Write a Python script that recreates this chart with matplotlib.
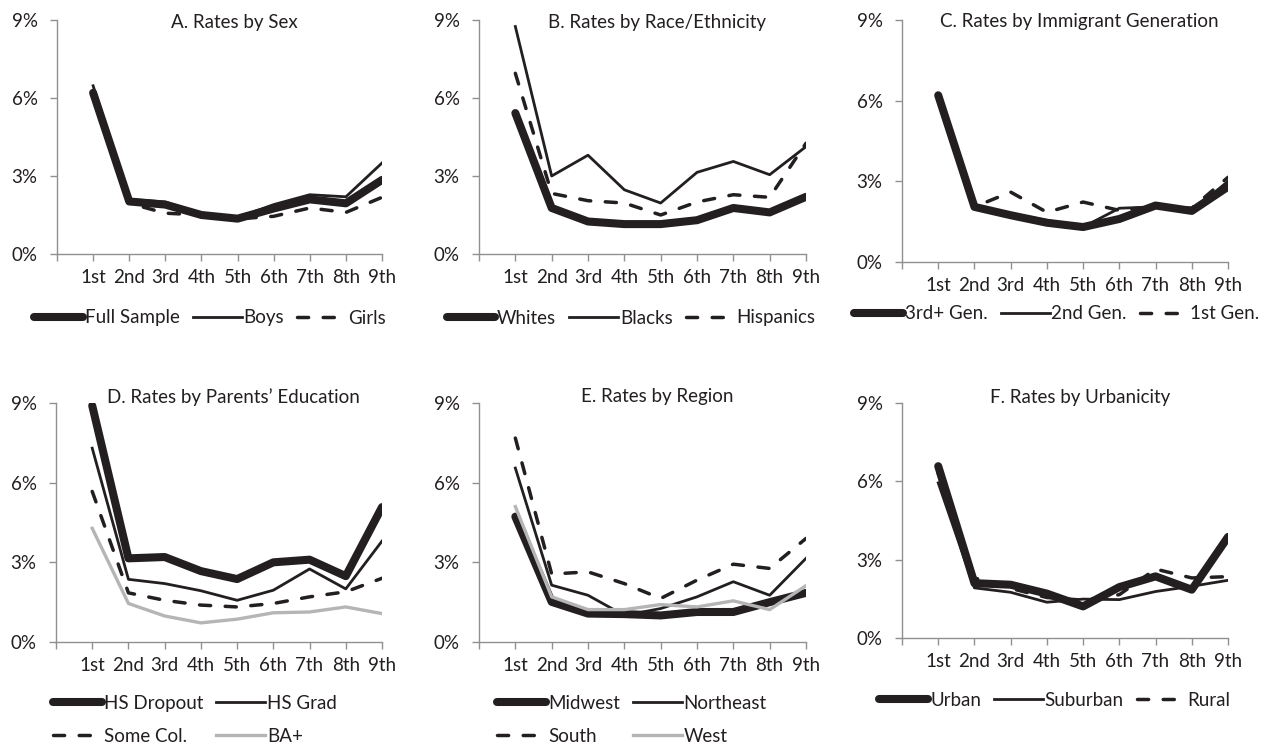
import matplotlib

matplotlib.use("Agg")
from matplotlib import pyplot as plt

grades = ["1st", "2nd", "3rd", "4th", "5th", "6th", "7th", "8th", "9th"]

# A. sex
sex_full = [6.2, 2.02, 1.9, 1.5, 1.36, 1.75, 2.1, 1.95, 2.85]
sex_boys = [6.47, 2.1, 2.0, 1.55, 1.4, 1.9, 2.28, 2.2, 3.5]
sex_girls = [6.1, 1.95, 1.57, 1.5, 1.35, 1.45, 1.77, 1.6, 2.18]

# B. race / ethnicity
race_whites = [5.42, 1.77, 1.25, 1.15, 1.15, 1.3, 1.77, 1.6, 2.2]
race_blacks = [8.75, 3.0, 3.8, 2.47, 1.96, 3.14, 3.56, 3.05, 4.13]
race_hispanics = [6.95, 2.33, 2.05, 1.96, 1.5, 2.0, 2.28, 2.18, 4.26]

# C. immigrant generation
gen_third = [6.2, 2.05, 1.74, 1.46, 1.3, 1.6, 2.1, 1.9, 2.8]
gen_second = [6.2, 2.05, 1.8, 1.55, 1.3, 2.0, 2.05, 1.9, 3.0]
gen_first = [6.1, 2.05, 2.6, 1.85, 2.23, 1.92, 2.08, 2.0, 3.15]

# D. parents' education
edu_dropout = [8.9, 3.15, 3.2, 2.67, 2.37, 3.0, 3.1, 2.48, 5.08]
edu_grad = [7.3, 2.36, 2.2, 1.93, 1.57, 1.95, 2.75, 2.0, 3.8]
edu_somecol = [5.67, 1.85, 1.57, 1.39, 1.32, 1.45, 1.7, 1.89, 2.4]
edu_ba = [4.28, 1.45, 0.98, 0.72, 0.86, 1.1, 1.13, 1.32, 1.07]

# E. region
reg_midwest = [4.72, 1.51, 1.07, 1.05, 1.0, 1.13, 1.13, 1.5, 1.85]
reg_northeast = [6.55, 2.14, 1.76, 1.0, 1.26, 1.7, 2.27, 1.76, 3.15]
reg_south = [7.68, 2.56, 2.64, 2.2, 1.64, 2.33, 2.93, 2.77, 3.9]
reg_west = [5.1, 1.7, 1.22, 1.22, 1.41, 1.32, 1.55, 1.22, 2.12]

# F. urbanicity
urb_urban = [6.58, 2.1, 2.04, 1.7, 1.21, 1.95, 2.36, 1.85, 3.87]
urb_suburban = [5.94, 1.92, 1.75, 1.37, 1.49, 1.47, 1.78, 1.98, 2.21]
urb_rural = [6.3, 2.3, 1.9, 1.55, 1.45, 1.66, 2.64, 2.3, 2.35]

W, H = 1263, 749
INK = "#231f20"
AXIS = "#909090"
GREY = "#b5b5b5"
FS = 13.5

plt.rcParams["font.family"] = ["Lato", "DejaVu Sans"]

STYLES = {
    "thick": dict(color=INK, lw=5.8, solid_capstyle="round"),
    "thin": dict(color=INK, lw=2.0),
    "dash": dict(color=INK, lw=2.5, dashes=(3.2, 4.2), dash_capstyle="round"),
    "grey": dict(color=GREY, lw=2.4),
}

panels = [
    ("A. Rates by Sex", (57, 382, 20, 254), (210, 318), 3,
     [("Full Sample", sex_full, "thick"), ("Boys", sex_boys, "thin"), ("Girls", sex_girls, "dash")]),
    ("B. Rates by Race/Ethnicity", (479, 806, 20, 254), (631, 318), 3,
     [("Whites", race_whites, "thick"), ("Blacks", race_blacks, "thin"), ("Hispanics", race_hispanics, "dash")]),
    ("C. Rates by Immigrant Generation", (902, 1228, 20, 262), (1057, 314), 3,
     [("3rd+ Gen.", gen_third, "thick"), ("2nd Gen.", gen_second, "thin"), ("1st Gen.", gen_first, "dash")]),
    ("D. Rates by Parents\u2019 Education", (56, 382, 403, 642), (195, 720), 2,
     [("HS Dropout", edu_dropout, "thick"), ("HS Grad", edu_grad, "thin"),
      ("Some Col.", edu_somecol, "dash"), ("BA+", edu_ba, "grey")]),
    ("E. Rates by Region", (479, 806, 403, 642), (632, 720), 2,
     [("Midwest", reg_midwest, "thick"), ("Northeast", reg_northeast, "thin"),
      ("South", reg_south, "dash"), ("West", reg_west, "grey")]),
    ("F. Rates by Urbanicity", (902, 1228, 403, 638), (1055, 700), 3,
     [("Urban", urb_urban, "thick"), ("Suburban", urb_suburban, "thin"), ("Rural", urb_rural, "dash")]),
]

fig = plt.figure(figsize=(W / 100, H / 100), dpi=100)
x = list(range(1, len(grades) + 1))

for title, (left, right, top, bottom), (lx, ly), ncol, series in panels:
    ax = fig.add_axes([left / W, 1 - bottom / H, (right - left) / W, (bottom - top) / H])
    handles = []
    for label, values, style in series:
        (line,) = ax.plot(x, values, label=label, **STYLES[style])
        handles.append(line)

    ax.set_xlim(0, len(grades))
    ax.set_ylim(0, 9)
    ax.set_xticks(range(0, len(grades) + 1))
    ax.set_xticklabels([""] + grades)
    ax.set_yticks([0, 3, 6, 9])
    ax.set_yticklabels([f"{v}%" for v in [0, 3, 6, 9]])
    for side in ["top", "right"]:
        ax.spines[side].set_visible(False)
    for side in ["left", "bottom"]:
        ax.spines[side].set_color(AXIS)
        ax.spines[side].set_linewidth(1.0)
    ax.tick_params(axis="both", direction="out", color=AXIS, labelcolor=INK, labelsize=FS, width=1.0)
    ax.tick_params(axis="y", length=5, pad=9)
    ax.tick_params(axis="x", length=5, pad=6)

    # title sits just above (bottom row) or on (top row) the top of the plot area
    dy = 6 if top > 100 else -2
    ax.text(0.545, 1.0 + dy / (bottom - top), title,
            transform=ax.transAxes, ha="center", va="center", fontsize=FS, color=INK)

    if ncol == 2:
        # rows read left to right, matplotlib fills by column
        handles = [handles[0], handles[2], handles[1], handles[3]]
    ax.legend(handles=handles, loc="center", bbox_to_anchor=(lx / W, 1 - ly / H),
              bbox_transform=fig.transFigure, ncol=ncol, frameon=False, fontsize=FS,
              handlelength=2.6, handletextpad=0.1, columnspacing=0.7, labelspacing=0.85,
              labelcolor=INK)

fig.savefig("out.png", dpi=100)
plt.close(fig)
